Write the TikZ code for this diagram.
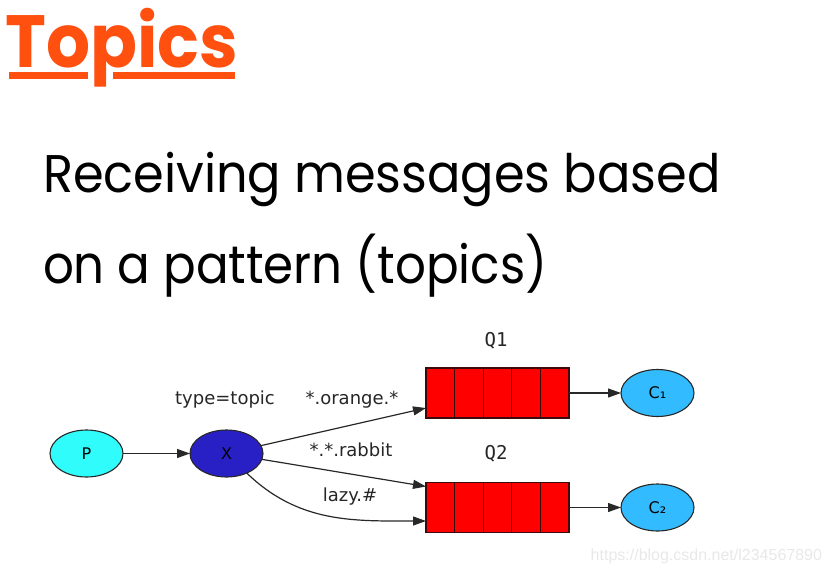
\documentclass[tikz,border=0pt]{standalone}
\usepackage{fontspec}
\setmainfont{DejaVu Sans}
\newfontfamily\poppins{Poppins}
\newfontfamily\dejamono{DejaVu Sans Mono}
\newfontfamily\libsans{Liberation Sans}
\usetikzlibrary{arrows.meta,shapes.geometric}
\definecolor{titleorange}{RGB}{255,80,16}
\definecolor{pcyan}{RGB}{48,252,252}
\definecolor{xblue}{RGB}{40,32,196}
\definecolor{cblue}{RGB}{51,187,255}
\definecolor{edgegray}{RGB}{40,40,40}
\definecolor{qborder}{RGB}{60,10,10}
\tikzset{
  every node/.style={inner sep=0pt, outer sep=0pt},
  ell/.style={ellipse, draw=edgegray, line width=1.1pt, minimum width=73pt, minimum height=47pt, font=\fontsize{16}{16}\selectfont},
  queue/.style={rectangle, draw=qborder, fill=red, line width=1.1pt, minimum width=143pt, minimum height=50pt,
    path picture={\foreach \i in {1,...,4}{\draw[qborder, line width=1.1pt] ([xshift=\i*28.6pt]path picture bounding box.north west) -- ([xshift=\i*28.6pt]path picture bounding box.south west);}}},
  conn/.style={draw=edgegray, line width=1.2pt, -{Triangle[length=13pt,width=9pt]}},
  elabel/.style={font=\fontsize{18}{18}\selectfont, text=black!85},
  qlabel/.style={font=\dejamono\fontsize{19}{19}\selectfont, text=black!85},
  bodytext/.style={anchor=base west, font=\poppins\fontsize{53}{53}\selectfont},
}
\begin{document}
\begin{tikzpicture}[x=1pt,y=-1pt]
\useasboundingbox (0,0) rectangle (832,578);
% title
\node[anchor=base west, text=titleorange, font=\poppins\bfseries\fontsize{74}{74}\selectfont] (title) at (5.5,67) {\scalebox{0.935}[1]{Topics}};
\fill[titleorange] (9,72) rectangle (88,79.3);
\fill[titleorange] (113,72) rectangle (235,79.3);
% body text
\node[bodytext] (line1) at (43,192.5) {\scalebox{0.932}[1]{Receiving messages based}};
\node[bodytext] (line2) at (43,283) {\scalebox{0.912}[1]{on a pattern (topics)}};
% diagram
\node[ell, fill=pcyan] (p) at (86.5,453.5) {P};
\node[ell, fill=xblue] (x) at (226.5,453.5) {X};
\node[queue] (q1) at (497.5,393) {};
\node[queue] (q2) at (497.5,507.5) {};
\node[ell, fill=cblue] (c1) at (657.5,393) {C₁};
\node[ell, fill=cblue] (c2) at (657.5,507.5) {C₂};
\node[qlabel] (q1l) at (496,341) {Q1};
\node[qlabel] (q2l) at (496,454) {Q2};
\node[elabel] (tt) at (225,400) {type=topic};
\node[elabel] (lo) at (352,400) {*.orange.*};
\node[elabel] (lr) at (351,450) {*.*.rabbit};
\node[elabel] (ll) at (350,497) {lazy.\#};
\coordinate (q1in) at ([yshift=-15pt]q1.west);
\coordinate (q2ina) at ([yshift=21pt]q2.west);
\coordinate (q2inb) at ([yshift=-13.5pt]q2.west);
\draw[conn] (p) -- (x);
\draw[conn] (x) -- (q1in);
\draw[conn] (x) -- (q2ina);
\draw[conn] (x.-44) to[out=-44,in=180] (q2inb);
\draw[conn] (q1) -- (c1);
\draw[conn] (q2) -- (c2);
% watermark
\node[anchor=east, text=black!9, font=\libsans\fontsize{16}{16}\selectfont] (wm) at (822,556) {https://blog.csdn.net/l234567890};
\end{tikzpicture}
\end{document}
